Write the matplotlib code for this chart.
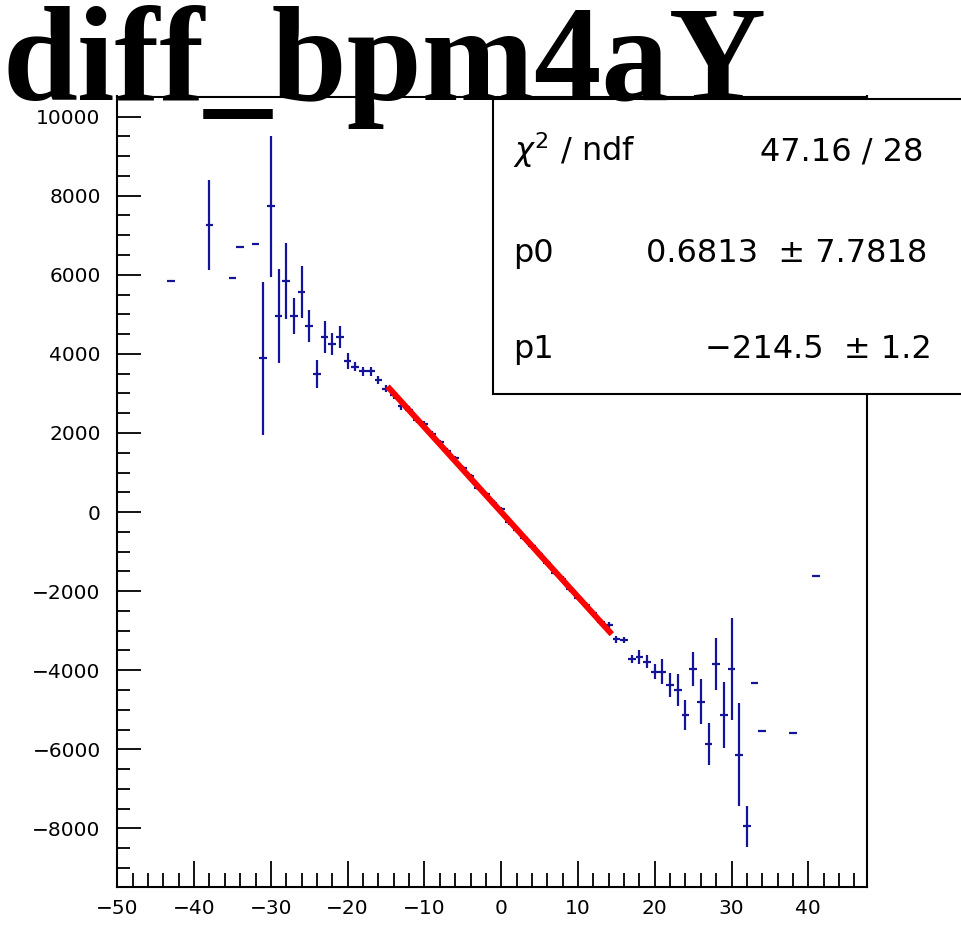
import matplotlib
import numpy as np

matplotlib.use("Agg")
import matplotlib.pyplot as plt
from matplotlib.patches import Rectangle
from matplotlib.ticker import MultipleLocator

plt.rcParams["font.family"] = ["DejaVu Sans"]
plt.rcParams["mathtext.fontset"] = "dejavusans"

TITLE = "diff_bpm4aY"

# profile bins: centre, mean, error on the mean
BIN_X = [-43, -38, -35, -34, -32, -31, -30, -29, -28, -27, -26, -25, -24, -23,
         -22, -21, -20, -19, -18, -17, -16,
         -15, -14, -13, -12, -11, -10, -9, -8, -7, -6, -5, -4, -3, -2, -1,
         0, 1, 2, 3, 4, 5, 6, 7, 8, 9, 10, 11, 12, 13, 14, 15, 16,
         17, 18, 19, 20, 21, 22, 23, 24, 25, 26, 27, 28, 29, 30, 31, 32,
         33, 34, 38, 41]
BIN_Y = [5840, 7260, 5910, 6710, 6780, 3890, 7730, 4960, 5840, 4960, 5570, 4700,
         3490, 4430, 4250, 4430, 3830, 3680, 3560, 3560, 3340,
         3120, 2950, 2680, 2590, 2330, 2220, 1980, 1760, 1540, 1360, 1110, 900,
         620, 450, 240, 70, -260, -460, -650, -850, -1070, -1280, -1530, -1680,
         -1950, -2160, -2350, -2560, -2790, -2850, -3220, -3230,
         -3715, -3657, -3783, -4035, -4035, -4371, -4497, -5127, -3975, -4792,
         -5859, -3841, -5127, -3975, -6136, -7945,
         -4328, -5531, -5589, -1622]
BIN_ERR = [0, 1135, 0, 0, 0, 1935, 1775, 1180, 965, 460, 665, 410, 355, 400,
           270, 270, 200, 120, 110, 110, 90,
           90, 90, 90, 80, 80, 80, 70, 70, 70, 70, 60, 60, 60, 60, 60,
           60, 60, 60, 60, 60, 60, 70, 70, 70, 70, 70, 80, 80, 80, 80, 80, 80,
           105, 180, 170, 190, 315, 295, 400, 380, 430, 560, 525, 665, 830,
           1295, 1300, 525,
           0, 0, 0, 0]
BIN_HALF_WIDTH = 0.5

# pol1 fit shown in the stats box
P0, P0_ERR = 0.6813, 7.7818
P1, P1_ERR = -214.5, 1.2
CHI2, NDF = 47.16, 28
FIT_RANGE = (-14.8, 14.4)

X_RANGE = (-50, 47.6)
Y_RANGE = (-9473, 10509)

W, H = 961, 941
BLUE = "#14149a"


def main() -> None:
    fig = plt.figure(figsize=(W / 100, H / 100), dpi=100)
    ax = fig.add_axes([117.3 / W, 1 - 886.7 / H, (866.7 - 117.3) / W, (886.7 - 96.5) / H])

    ax.errorbar(BIN_X, BIN_Y, xerr=BIN_HALF_WIDTH, yerr=BIN_ERR, fmt="none",
                ecolor=BLUE, elinewidth=1.6, capsize=0, zorder=2)

    xf = np.linspace(*FIT_RANGE, 50)
    ax.plot(xf, P0 + P1 * xf, color="red", lw=4.3, solid_capstyle="butt", zorder=3)

    ax.set_xlim(*X_RANGE)
    ax.set_ylim(*Y_RANGE)
    ax.xaxis.set_major_locator(MultipleLocator(10))
    ax.xaxis.set_minor_locator(MultipleLocator(2))
    ax.yaxis.set_major_locator(MultipleLocator(2000))
    ax.yaxis.set_minor_locator(MultipleLocator(500))
    ax.tick_params(axis="both", which="both", direction="in", top=False, right=False,
                   width=1.3, labelsize=14.5, color="black")
    ax.tick_params(axis="x", which="major", length=19, pad=9)
    ax.tick_params(axis="x", which="minor", length=10)
    ax.tick_params(axis="y", which="major", length=17, pad=12)
    ax.tick_params(axis="y", which="minor", length=9)
    for s in ax.spines.values():
        s.set_linewidth(1.5)

    # stats box (pad coordinates, runs off the right edge)
    box_l, box_t, box_b = 493 / W, 1 - 99 / H, 1 - 394 / H
    fig.patches.append(Rectangle((box_l, box_b), 1.0 - box_l + 0.01, box_t - box_b,
                                 transform=fig.transFigure, facecolor="white",
                                 edgecolor="black", lw=1.5, zorder=5))
    left_x = 513 / W
    rows = [(r"$\chi^2$ / ndf", f"{CHI2:.2f} / {NDF}", 161, 923),
            ("p0", f"{P0:.4f}  \u00b1 {P0_ERR:.4f}", 262, 927),
            ("p1", f"\u2212{abs(P1):.1f}  \u00b1 {P1_ERR:.1f}", 358, 932)]
    for name, val, base, right in rows:
        fig.text(left_x, 1 - base / H, name, fontsize=23, va="baseline", ha="left", zorder=6)
        fig.text(right / W, 1 - base / H, val, fontsize=23, va="baseline", ha="right", zorder=6)

    fig.text(2 / W, 1 - 100 / H, TITLE, family=["Liberation Serif", "DejaVu Serif"],
             fontweight="bold", fontsize=97, va="baseline", ha="left", zorder=7)

    fig.savefig("out.png", dpi=100, facecolor="white")


if __name__ == "__main__":
    main()
